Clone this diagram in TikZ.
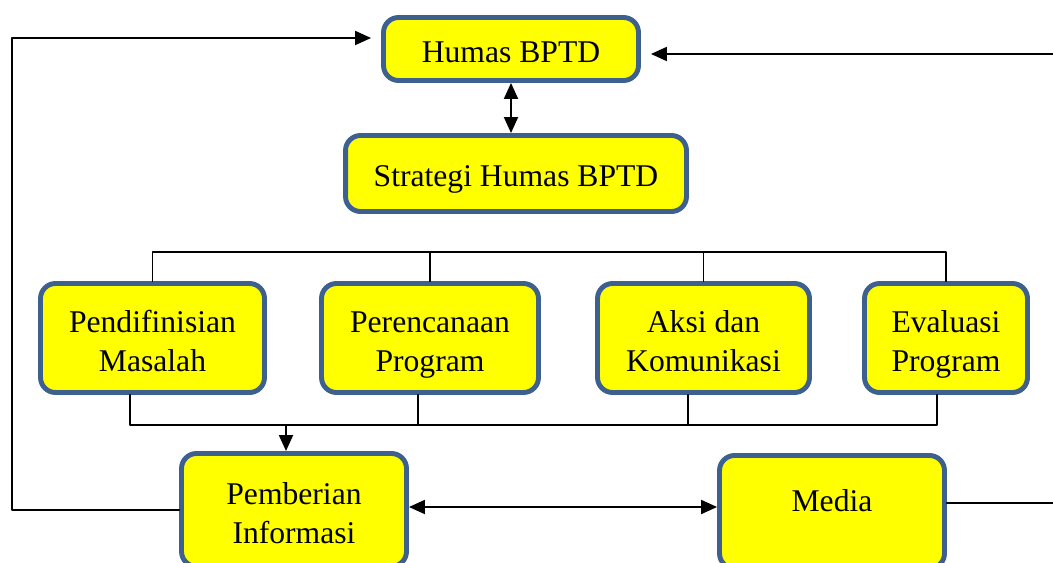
\documentclass[tikz,border=0pt]{standalone}
\usepackage{fontspec}
\setmainfont{Liberation Serif}
\usetikzlibrary{arrows.meta}
\usetikzlibrary{positioning}

\definecolor{boxblue}{RGB}{61,96,142}
\definecolor{boxyellow}{RGB}{255,255,0}

\begin{document}
\begin{tikzpicture}[x=0.02cm, y=-0.02cm, line cap=round, line join=round,
  >={Triangle[length=0.32cm,width=0.28cm]},
  box/.style={draw=boxblue, fill=boxyellow, line width=2.8pt, rounded corners=0.3cm,
    align=center, inner sep=0pt, font=\fontsize{18}{22.7}\selectfont},
  onebox/.style={box, execute at begin node={\rule{0pt}{0.76cm}}},
  twobox/.style={box, text depth=0cm},
  link/.style={line width=1.1pt}]

\clip (0,0) rectangle (1053,563);

% boxes
\node[onebox, minimum width=5.1cm, minimum height=1.26cm] (humas) at (511,49) {\strut Humas BPTD};
\node[onebox, minimum width=6.82cm, minimum height=1.52cm] (strategi) at (516,173.5) {\strut Strategi Humas BPTD};

\node[twobox, minimum width=4.48cm, minimum height=2.18cm] (masalah) at (152.5,338) {\strut Pendifinisian\\\strut Masalah};
\node[twobox, minimum width=4.34cm, minimum height=2.18cm] (program) at (430,338) {\strut Perencanaan\\\strut Program};
\node[twobox, minimum width=4.24cm, minimum height=2.18cm] (aksi) at (703.5,338) {\strut Aksi dan\\\strut Komunikasi};
\node[twobox, minimum width=3.26cm, minimum height=2.18cm] (evaluasi) at (946,338) {\strut Evaluasi\\\strut Program};

\node[twobox, minimum width=4.5cm, minimum height=2.26cm] (info) at (294,510) {\strut Pemberian\\\strut Informasi};
\node[onebox, minimum width=4.5cm, minimum height=2.26cm] (media) at (832,512) {\raisebox{0.56cm}{\strut Media}};

% helper coordinates
\coordinate (topbar) at (0,252);
\coordinate (botbar) at (0,425);
\coordinate (leftrail) at (12,0);
\coordinate (rightedge) at (1060,0);

% humas <-> strategi
\draw[link,<->] (humas.south) -- (humas.south |- strategi.north);

% top bracket
\draw[link] (masalah.north) -- (masalah.north |- topbar) -- (evaluasi.north |- topbar) -- (evaluasi.north);
\draw[link] (program.north) -- (program.north |- topbar);
\draw[link] (aksi.north) -- (aksi.north |- topbar);

% bottom bracket
\draw[link] (masalah.south -| 130,0) -- (130,0 |- botbar) -- (937,0 |- botbar) -- (evaluasi.south -| 937,0);
\draw[link] (program.south -| 418,0) -- (418,0 |- botbar);
\draw[link] (aksi.south -| 688,0) -- (688,0 |- botbar);
\draw[link,->] (286,0 |- botbar) -- (info.north -| 286,0);

% feedback loops
\coordinate (humasin) at ([shift={(-0.2cm,0.22cm)}]humas.west);
\draw[link,->] (info.west) -| (leftrail |- humasin) -- (humasin);
\coordinate (humasout) at ([shift={(0.2cm,-0.1cm)}]humas.east);
\draw[link,->] (rightedge |- humasout) -- (humasout);
\draw[link] ([yshift=0.18cm]media.east) -- ([yshift=0.18cm]media.east -| rightedge);

% info <-> media
\draw[link,<->] ([yshift=0.06cm]info.east) -- ([yshift=0.06cm]info.east -| media.west);

\end{tikzpicture}
\end{document}
